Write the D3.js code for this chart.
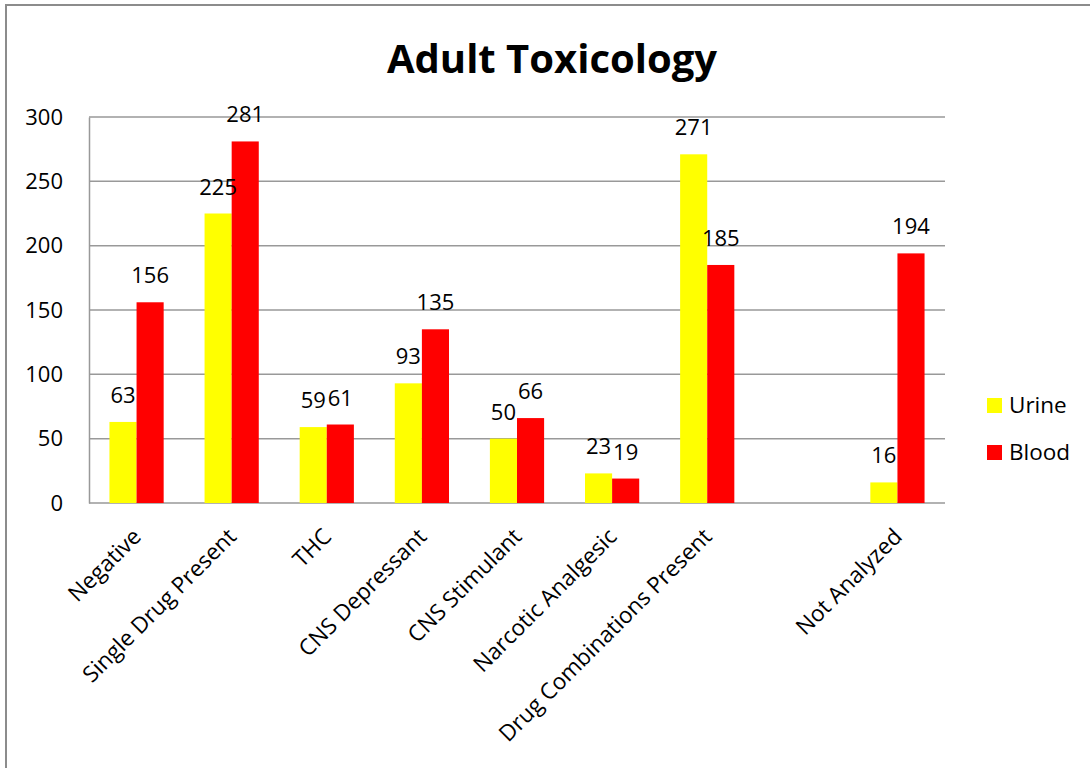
<!DOCTYPE html>
<meta charset="utf-8">
<script src="https://d3js.org/d3.v7.min.js"></script>
<style>
  body { margin: 0; background: #fff; }
  text { font-family: "Open Sans", sans-serif; fill: #000; }
</style>
<div id="chart"></div>
<script>

// categories (one blank slot before "Not Analyzed", as in the original)
var categories = ["Negative", "Single Drug Present", "THC", "CNS Depressant",
  "CNS Stimulant", "Narcotic Analgesic", "Drug Combinations Present", "", "Not Analyzed"];
var series = ["Urine", "Blood"];
var urine = [63, 225, 59, 93, 50, 23, 271, null, 16];
var blood = [156, 281, 61, 135, 66, 19, 185, null, 194];
var yTicks = [0, 50, 100, 150, 200, 250, 300];
var colors = {Urine: "#FFFF00", Blood: "#FF0000"};

var W = 1090, H = 768;
var margin = {top: 117, left: 89, right: 145, bottom: 265};
var width = W - margin.left - margin.right,
    height = H - margin.top - margin.bottom;

var svg = d3.select("#chart").append("svg")
    .attr("width", W)
    .attr("height", H);

// outer frame
svg.append("rect")
    .attr("x", 6).attr("y", 5)
    .attr("width", 1200).attr("height", 900)
    .attr("fill", "none")
    .attr("stroke", "#8c8c8c")
    .attr("stroke-width", 2);

svg.append("text")
    .attr("x", 552).attr("y", 73)
    .attr("text-anchor", "middle")
    .style("font-size", "40px")
    .style("font-weight", "bold")
    .text("Adult Toxicology");

var g = svg.append("g")
    .attr("transform", "translate(" + margin.left + "," + margin.top + ")");

var x0 = d3.scaleBand().domain(d3.range(categories.length)).range([0, width]);
var gap = x0.bandwidth() * 0.215;
var x1 = d3.scaleBand().domain(series).range([gap, x0.bandwidth() - gap]);
var y = d3.scaleLinear().domain([0, 300]).range([height, 0]);

// gridlines
g.selectAll(".grid")
  .data(yTicks)
  .enter().append("line")
    .attr("x1", 0).attr("x2", width)
    .attr("y1", function(d) { return y(d); })
    .attr("y2", function(d) { return y(d); })
    .attr("stroke", "#999")
    .attr("stroke-width", 1.5);

// y axis
var yAxis = g.append("g")
    .call(d3.axisLeft(y).tickValues(yTicks).tickSize(0).tickPadding(26));
yAxis.select(".domain").attr("stroke", "#999").attr("stroke-width", 1.5);
yAxis.selectAll("text").style("font-size", "22px").style("font-family", "'Open Sans', sans-serif");

// bars
var rows = categories.map(function(c, i) {
  return {i: i, values: [{key: "Urine", v: urine[i]}, {key: "Blood", v: blood[i]}]};
});

var groups = g.selectAll(".cat")
  .data(rows)
  .enter().append("g")
    .attr("transform", function(d) { return "translate(" + x0(d.i) + ",0)"; });

groups.selectAll("rect")
  .data(function(d) { return d.values.filter(function(e) { return e.v != null; }); })
  .enter().append("rect")
    .attr("x", function(d) { return x1(d.key); })
    .attr("y", function(d) { return y(d.v); })
    .attr("width", x1.bandwidth())
    .attr("height", function(d) { return height - y(d.v); })
    .attr("fill", function(d) { return colors[d.key]; });

groups.selectAll(".lbl")
  .data(function(d) { return d.values.filter(function(e) { return e.v != null; }); })
  .enter().append("text")
    .attr("x", function(d) { return x1(d.key) + x1.bandwidth() / 2; })
    .attr("y", function(d) { return y(d.v) - 19; })
    .attr("text-anchor", "middle")
    .style("font-size", "22px")
    .text(function(d) { return d.v; });

// category labels
g.selectAll(".xl")
  .data(categories)
  .enter().append("text")
    .attr("text-anchor", "end")
    .style("font-size", "22.5px")
    .attr("transform", function(d, i) {
      return "translate(" + (x0(i) + x0.bandwidth() / 2 + 6) + "," + (height + 35) + ") rotate(-45)";
    })
    .text(function(d) { return d; });

// legend
var legend = svg.append("g").attr("transform", "translate(987,398)");
series.forEach(function(s, i) {
  legend.append("rect")
    .attr("x", 0).attr("y", i * 47)
    .attr("width", 15).attr("height", 15)
    .attr("fill", colors[s]);
  legend.append("text")
    .attr("x", 22).attr("y", i * 47 + 15)
    .style("font-size", "22.5px")
    .text(s);
});

</script>
